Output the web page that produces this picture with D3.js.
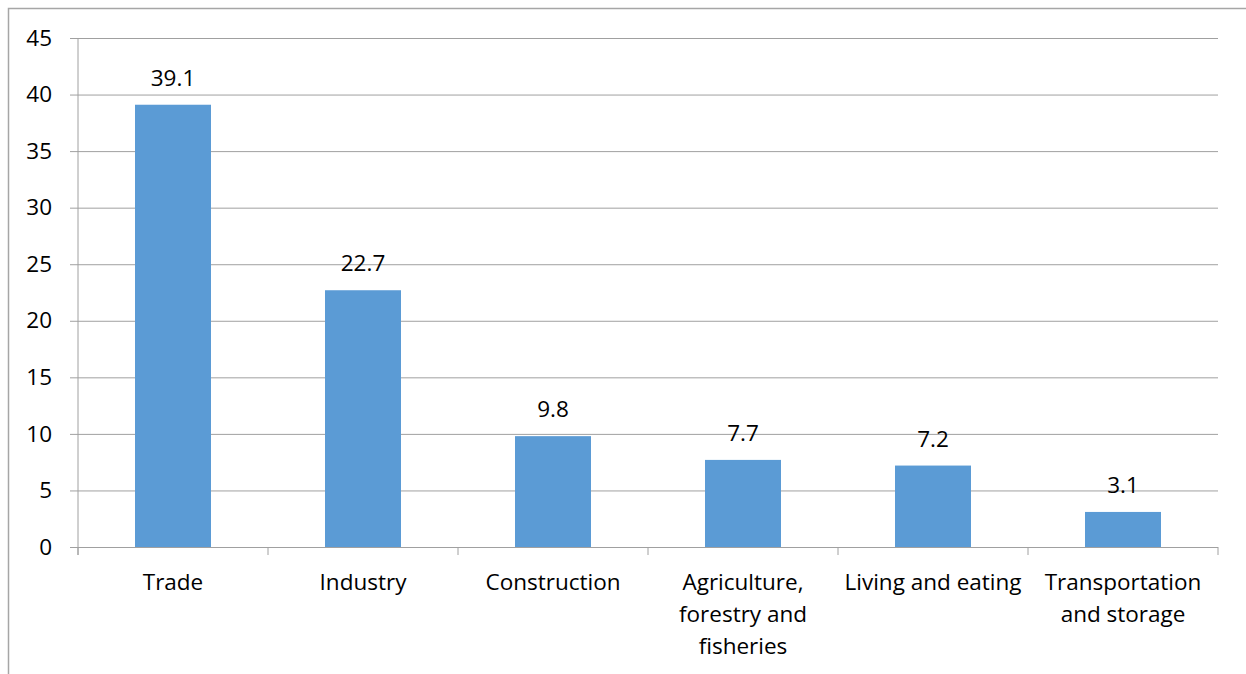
<!DOCTYPE html>
<html>
<head>
<meta charset="utf-8">
<script src="https://cdn.jsdelivr.net/npm/d3@7"></script>
<style>
  body { margin: 0; background: #fff; }
  text { font-family: "Open Sans", Lato, sans-serif; fill: #000; }
</style>
</head>
<body>
<svg id="chart"></svg>
<script>
// data
const categories = ["Trade", "Industry", "Construction", "Agriculture, forestry and fisheries", "Living and eating", "Transportation and storage"];
const labelLines = [["Trade"], ["Industry"], ["Construction"], ["Agriculture,", "forestry and", "fisheries"], ["Living and eating"], ["Transportation", "and storage"]];
const values = [39.1, 22.7, 9.8, 7.7, 7.2, 3.1];
const yTicks = [0, 5, 10, 15, 20, 25, 30, 35, 40, 45];

const W = 1246, H = 674;
const margin = { top: 38, right: 28, bottom: 127, left: 78 };
const width = W - margin.left - margin.right;
const height = H - margin.top - margin.bottom;
const fontSize = "22.5px";

const svg = d3.select("#chart").attr("width", W).attr("height", H);

// outer frame (partly cut off in the picture)
svg.append("path")
  .attr("d", `M8.5,${H} V8.5 H${W}`)
  .attr("fill", "none")
  .attr("stroke", "#a6a6a6")
  .attr("stroke-width", 1.5);

const chart = svg.append("g").attr("transform", `translate(${margin.left},${margin.top})`);

const x = d3.scaleBand().domain(categories).range([0, width]).paddingInner(0.6).paddingOuter(0.3);
const xTicks = d3.scaleBand().domain(categories).range([0, width]);
const y = d3.scaleLinear().domain([0, 45]).range([height, 0]);

// gridlines + y axis
const yAxis = d3.axisLeft(y).tickValues(yTicks).tickSize(-width).tickPadding(26);
const gy = chart.append("g").call(yAxis);
gy.select(".domain").remove();
gy.selectAll(".tick line").attr("stroke", "#a0a0a0").attr("x1", -8);
gy.selectAll(".tick text").style("font-size", fontSize);

// left axis line
chart.append("line")
  .attr("x1", 0).attr("x2", 0).attr("y1", 0).attr("y2", height + 8)
  .attr("stroke", "#a0a0a0");

// category ticks on x axis
const bounds = categories.map(d => xTicks(d)).concat([width]);
chart.selectAll(".xtick").data(bounds).join("line")
  .attr("class", "xtick")
  .attr("x1", d => d).attr("x2", d => d)
  .attr("y1", height).attr("y2", height + 8)
  .attr("stroke", "#a0a0a0");

// bars
chart.selectAll(".bar").data(values).join("rect")
  .attr("class", "bar")
  .attr("x", (d, i) => x(categories[i]))
  .attr("y", d => y(d))
  .attr("width", x.bandwidth())
  .attr("height", d => height - y(d))
  .attr("fill", "#5b9bd5");

// value labels
chart.selectAll(".val").data(values).join("text")
  .attr("class", "val")
  .attr("x", (d, i) => x(categories[i]) + x.bandwidth() / 2)
  .attr("y", d => y(d) - 19)
  .attr("text-anchor", "middle")
  .style("font-size", fontSize)
  .text(d => d.toFixed(1));

// category labels
const cl = chart.selectAll(".cat").data(labelLines).join("text")
  .attr("class", "cat")
  .attr("text-anchor", "middle")
  .attr("transform", (d, i) => `translate(${xTicks(categories[i]) + xTicks.bandwidth() / 2},${height + 43})`)
  .style("font-size", fontSize);
cl.selectAll("tspan").data(d => d).join("tspan")
  .attr("x", 0)
  .attr("dy", (d, i) => i === 0 ? 0 : 32)
  .text(d => d);
</script>
</body>
</html>
